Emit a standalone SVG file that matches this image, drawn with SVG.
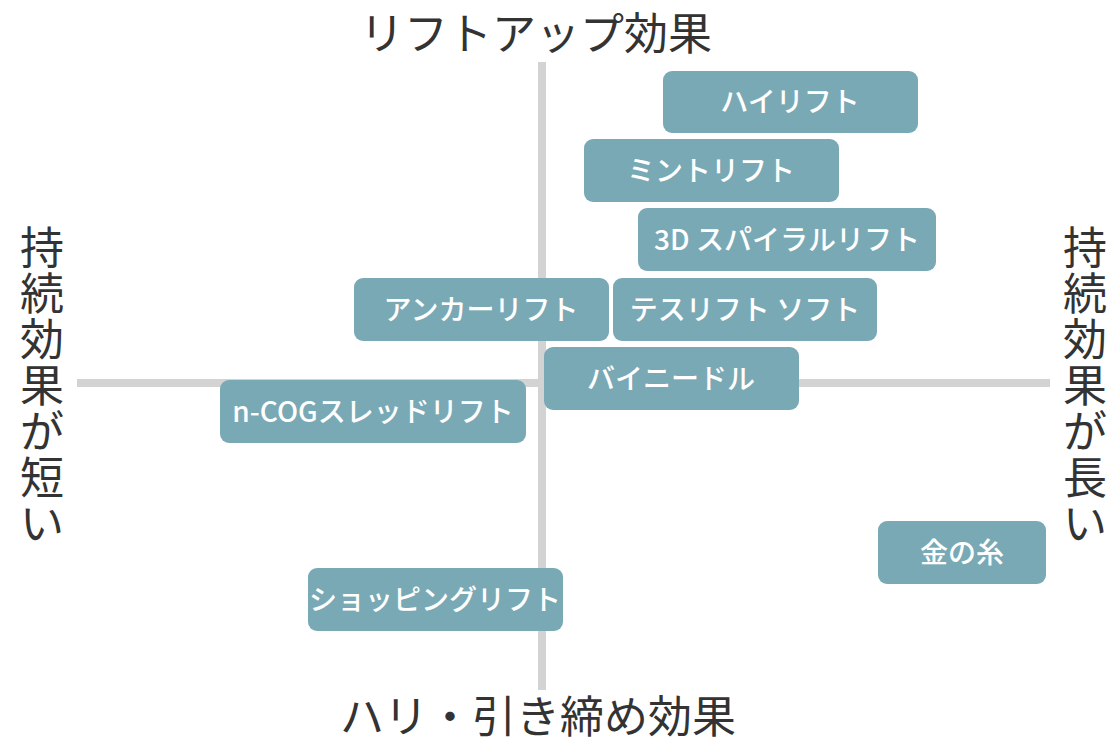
<svg xmlns="http://www.w3.org/2000/svg" width="1120" height="747" viewBox="0 0 1120 747">
<style>
.box{fill:#7aa9b6}
.lb{font-family:"Noto Sans CJK JP","Noto Sans",sans-serif;font-size:28px;font-weight:500;fill:#fff;text-anchor:middle}
.t{font-family:"Noto Sans CJK JP",sans-serif;font-size:44px;fill:#333;text-anchor:middle}
.ax{stroke:#d3d3d3;stroke-width:8}
</style>
<rect width="1120" height="747" fill="#fff"/>
<g id="connectors">
<line class="ax" x1="542" y1="62" x2="542" y2="690"/>
<line class="ax" x1="77" y1="383" x2="1050" y2="383"/>
</g>
<g id="titles">
<text class="t" x="536" y="50">リフトアップ効果</text>
<text class="t" x="538" y="733">ハリ・引き締め効果</text>
<text class="t" x="42"><tspan x="42" y="264">持</tspan><tspan x="42" y="310">続</tspan><tspan x="42" y="356">効</tspan><tspan x="42" y="402">果</tspan><tspan x="42" y="448">が</tspan><tspan x="42" y="494">短</tspan><tspan x="42" y="540">い</tspan></text>
<text class="t" x="1085"><tspan x="1085" y="264">持</tspan><tspan x="1085" y="310">続</tspan><tspan x="1085" y="356">効</tspan><tspan x="1085" y="402">果</tspan><tspan x="1085" y="448">が</tspan><tspan x="1085" y="494">長</tspan><tspan x="1085" y="540">い</tspan></text>
</g>
<g id="n1"><rect class="box" x="663" y="71" width="255" height="62" rx="9"/><text class="lb" x="790" y="112">ハイリフト</text></g>
<g id="n2"><rect class="box" x="584" y="139" width="255" height="63" rx="9"/><text class="lb" x="711" y="181">ミントリフト</text></g>
<g id="n3"><rect class="box" x="638" y="208" width="298" height="63" rx="9"/><text class="lb" x="787" y="250">3D スパイラルリフト</text></g>
<g id="n4"><rect class="box" x="354" y="278" width="255" height="63" rx="9"/><text class="lb" x="481" y="320">アンカーリフト</text></g>
<g id="n5"><rect class="box" x="613" y="278" width="264" height="63" rx="9"/><text class="lb" x="745" y="320">テスリフト ソフト</text></g>
<g id="n6"><rect class="box" x="544" y="347" width="255" height="63" rx="9"/><text class="lb" x="671" y="389">バイニードル</text></g>
<g id="n7"><rect class="box" x="220" y="380" width="306" height="63" rx="9"/><text class="lb" x="373" y="422">n-COGスレッドリフト</text></g>
<g id="n8"><rect class="box" x="878" y="521" width="168" height="63" rx="9"/><text class="lb" x="962" y="563">金の糸</text></g>
<g id="n9"><rect class="box" x="308" y="568" width="255" height="63" rx="9"/><text class="lb" x="435" y="610">ショッピングリフト</text></g>
</svg>
